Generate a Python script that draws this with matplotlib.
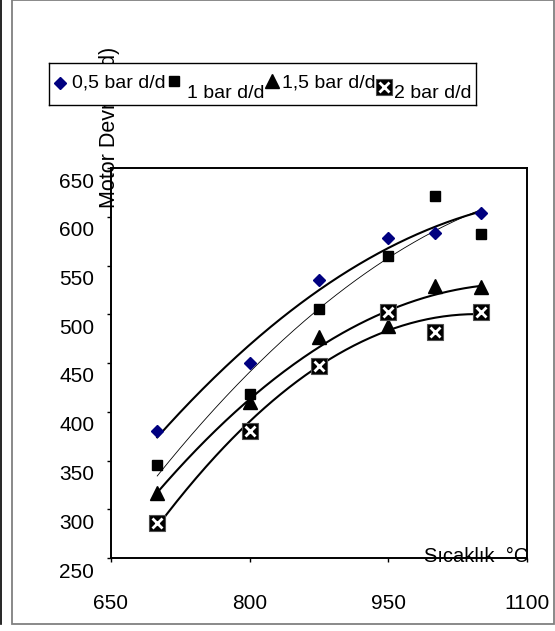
import numpy as np
import matplotlib
matplotlib.use("Agg")
import matplotlib.pyplot as plt
from matplotlib.transforms import ScaledTranslation
from matplotlib.patches import Rectangle
from matplotlib.lines import Line2D

plt.rcParams['font.family'] = ['Liberation Sans', 'DejaVu Sans']

# Data
sicaklik = [700, 800, 875, 950, 1000, 1050]
bar_05 = [380, 450, 535, 578, 583, 604]
bar_10 = [345, 418, 505, 560, 621, 582]
bar_15 = [317, 410, 477, 488, 529, 528]
bar_20 = [286, 380, 447, 502, 482, 502]
labels = ['0,5 bar d/d', '1 bar d/d', '1,5 bar d/d', '2 bar d/d']
x_ticks = [650, 800, 950, 1100]
y_ticks = [250, 300, 350, 400, 450, 500, 550, 600, 650]

W, H = 555, 631
fig = plt.figure(figsize=(W / 100, H / 100), dpi=100)


def fr(x0, y0, x1, y1):
    # pixel box (top-left origin) -> figure fraction rect
    return [x0 / W, 1 - y1 / H, (x1 - x0) / W, (y1 - y0) / H]


# outer frames
fig.add_artist(Line2D([0.5 / W, 0.5 / W], [1 - 624 / H, 1], color='black', lw=1.2,
                      transform=fig.transFigure))
fig.add_artist(Rectangle((12 / W, 1 - 624 / H), 542 / W, 624 / H, fill=False,
                         edgecolor='#808080', lw=1.3, transform=fig.transFigure))

ax = fig.add_axes(fr(111, 168, 527, 558))
ax.set_xlim(650, 1100)
ax.set_ylim(250, 650)
for sp in ax.spines.values():
    sp.set_linewidth(1.4)
    sp.set_color('black')

xs = np.linspace(min(sicaklik), max(sicaklik), 200)
series = [bar_05, bar_10, bar_15, bar_20]
widths = [1.5, 0.6, 1.5, 1.5]
for ys, lw in zip(series, widths):
    c = np.polyfit(sicaklik, ys, 2)
    ax.plot(xs, np.polyval(c, xs), color='black', lw=lw, zorder=2)


def draw_markers(a, x, y, kind):
    if kind == 0:
        a.plot(x, y, 'D', ms=6.6, color='#000080', ls='none', zorder=4)
    elif kind == 1:
        a.plot(x, y, 's', ms=7.9, color='black', ls='none', zorder=4)
    elif kind == 2:
        a.plot(x, y, '^', ms=9.6, color='black', ls='none', zorder=4)
    else:
        a.plot(x, y, 's', ms=11.3, color='black', mec='#505050', mew=0.8,
               ls='none', zorder=5)
        a.plot(x, y, 'x', ms=7.2, color='white', mew=2.0, ls='none', zorder=6)


for k, ys in enumerate(series):
    draw_markers(ax, sicaklik, ys, k)

ax.set_xticks(x_ticks)
ax.set_yticks(y_ticks)
ax.set_xticklabels([str(v) for v in x_ticks], fontsize=15)
ax.set_yticklabels([str(v) for v in y_ticks], fontsize=15)
ax.tick_params(axis='x', direction='out', length=3, width=1, pad=23)
ax.tick_params(axis='y', direction='out', length=3, width=1, pad=9)
off = ScaledTranslation(0, -12 / 100, fig.dpi_scale_trans)
for lab in ax.get_yticklabels():
    lab.set_transform(lab.get_transform() + off)

# axis titles
fig.text(110 / W, 1 - 208 / H, 'Motor Devri (d/d)', rotation=90, ha='center',
         va='bottom', fontsize=15.5, zorder=1)
fig.text(424 / W, 1 - 556 / H, 'Sıcaklık  °C', ha='left', va='center',
         fontsize=14.5, zorder=10)

# legend box (drawn by hand to keep the staggered layout)
lax = fig.add_axes(fr(49, 63, 476, 105), zorder=20)
lax.set_xlim(49, 476)
lax.set_ylim(105, 63)
lax.set_xticks([])
lax.set_yticks([])
lax.set_facecolor('white')
for sp in lax.spines.values():
    sp.set_linewidth(1.0)
leg_mark = [(60, 82.5), (174, 81), (272, 81), (384, 87)]
leg_text = [(72, 83), (187, 94), (282, 83), (394, 94)]
for k in range(4):
    draw_markers(lax, [leg_mark[k][0]], [leg_mark[k][1]], k)
    lax.text(leg_text[k][0], leg_text[k][1], labels[k], ha='left', va='center',
             fontsize=14)

fig.savefig('out.png', dpi=100)
